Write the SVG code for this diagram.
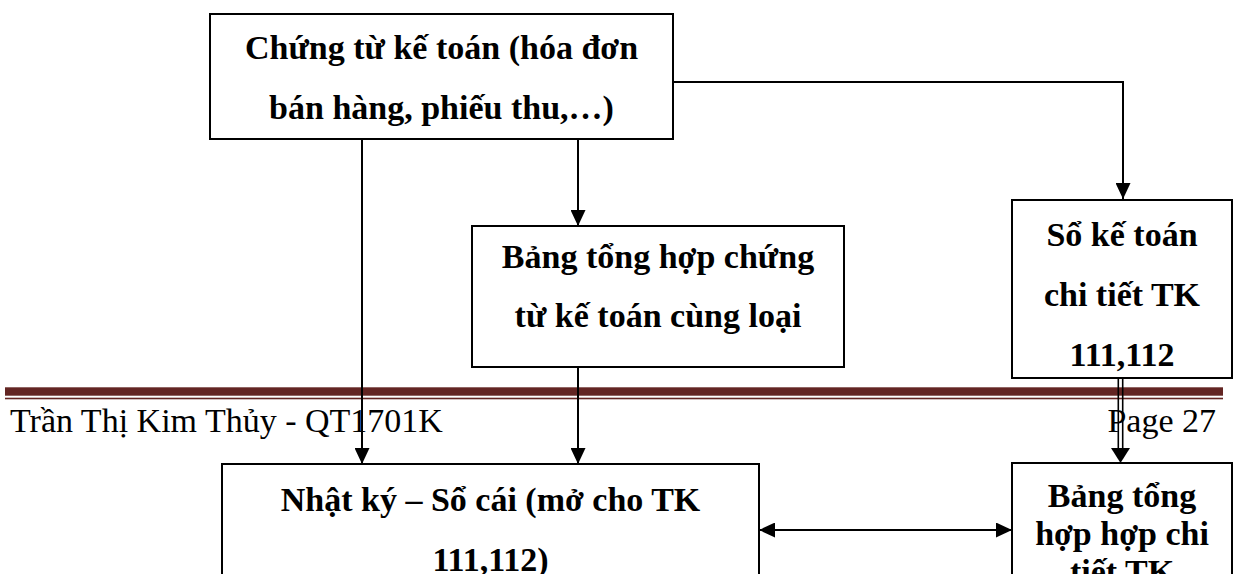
<svg xmlns="http://www.w3.org/2000/svg" width="1235" height="574" viewBox="0 0 1235 574">
  <style>
    .box { fill: #ffffff; stroke: #000000; stroke-width: 2; }
    .lbl { font-family: "Liberation Serif", "Times New Roman", serif; font-weight: bold; font-size: 34px; fill: #000000; text-anchor: middle; }
    .foot { font-family: "Liberation Serif", "Times New Roman", serif; font-size: 34px; fill: #000000; }
    .wire { fill: none; stroke: #000000; stroke-width: 2; }
    .thin { fill: none; stroke: #000000; stroke-width: 1.6; }
  </style>
  <defs>
    <marker id="head" viewBox="0 0 16 15" refX="16" refY="7.5" markerWidth="16" markerHeight="15" markerUnits="userSpaceOnUse" orient="auto-start-reverse">
      <path d="M0,0 L16,7.5 L0,15 Z" fill="#000000"/>
    </marker>
  </defs>

  <rect width="1235" height="574" fill="#ffffff"/>

  <!-- page footer: rule and caption -->
  <g id="footer">
    <rect x="5" y="387.3" width="1218" height="8.4" fill="#632523"/>
    <rect x="5" y="397.7" width="1218" height="1.6" fill="#632523"/>
    <text class="foot" x="10" y="432">Trần Thị Kim Thủy - QT1701K</text>
    <text class="foot" x="1216" y="432" text-anchor="end">Page 27</text>
  </g>

  <g id="chung-tu">
    <rect class="box" x="210" y="14" width="463" height="125"/>
    <text class="lbl" x="441.5" y="59">Chứng từ kế toán (hóa đơn</text>
    <text class="lbl" x="441.5" y="119">bán hàng, phiếu thu,…)</text>
  </g>

  <g id="bang-tong-hop-chung-tu">
    <rect class="box" x="472" y="226" width="372" height="141"/>
    <text class="lbl" x="658" y="268">Bảng tổng hợp chứng</text>
    <text class="lbl" x="658" y="327">từ kế toán cùng loại</text>
  </g>

  <g id="so-chi-tiet">
    <rect class="box" x="1012" y="200" width="220" height="178"/>
    <text class="lbl" x="1122" y="246">Sổ kế toán</text>
    <text class="lbl" x="1122" y="306">chi tiết TK</text>
    <text class="lbl" x="1122" y="366">111,112</text>
  </g>

  <g id="nhat-ky-so-cai">
    <rect class="box" x="222" y="464" width="537" height="140"/>
    <text class="lbl" x="490.5" y="511">Nhật ký – Sổ cái (mở cho TK</text>
    <text class="lbl" x="490.5" y="571">111,112)</text>
  </g>

  <g id="bang-tong-hop-chi-tiet">
    <rect class="box" x="1012" y="463" width="220" height="140"/>
    <text class="lbl" x="1122" y="507">Bảng tổng</text>
    <text class="lbl" x="1122" y="545">hợp hợp chi</text>
    <text class="lbl" x="1122" y="583">tiết TK</text>
  </g>

  <g id="connectors">
    <path class="wire" d="M673,82 H1123 V199" marker-end="url(#head)"/>
    <path class="wire" d="M362,139 V464" marker-end="url(#head)"/>
    <path class="wire" d="M578,139 V226" marker-end="url(#head)"/>
    <path class="wire" d="M578,367 V464" marker-end="url(#head)"/>
    <path class="thin" d="M1118.3,378 V452"/>
    <path class="thin" d="M1122.7,378 V452"/>
    <path d="M1111,448 L1130,448 L1120.5,463 Z" fill="#000000"/>
    <path class="wire" d="M759,530 H1012" marker-start="url(#head)" marker-end="url(#head)"/>
  </g>
</svg>
